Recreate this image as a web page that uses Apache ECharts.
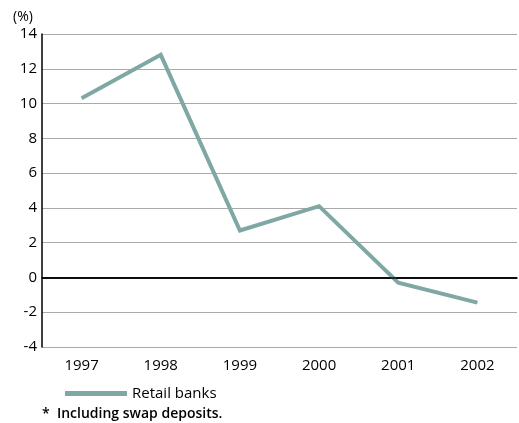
<!DOCTYPE html>
<html><head><meta charset="utf-8">
<script src="https://cdn.jsdelivr.net/npm/echarts@6/dist/echarts.min.js"></script>
<style>html,body{margin:0;padding:0;background:#fff}#c{width:519px;height:423px}</style>
</head><body><div id="c"></div>
<script>
const categories = ['1997','1998','1999','2000','2001','2002'];
const retailBanks = [10.3, 12.8, 2.7, 4.1, -0.3, -1.45];
const yTicks = [-4,-2,0,2,4,6,8,10,12,14];
const seriesName = 'Retail banks';
const footnote = '*  Including swap deposits.';
const unitLabel = '(%)';

const font = 'Open Sans, Liberation Sans, sans-serif';
const chart = echarts.init(document.getElementById('c'), null, {renderer:'canvas'});
chart.setOption({
  animation:false,
  grid:{left:42, right:2, top:34, bottom:76, containLabel:false},
  xAxis:{type:'category', data:categories, boundaryGap:true,
    axisLine:{lineStyle:{color:'#000', width:1.5}},
    axisTick:{inside:true, length:6, lineStyle:{color:'#000', width:1.5}},
    axisLabel:{color:'#000', fontSize:15, fontFamily:font, margin:11}},
  yAxis:{type:'value', min:yTicks[0], max:yTicks[yTicks.length-1], interval:2,
    axisLine:{show:true, lineStyle:{color:'#000', width:1.5}},
    axisTick:{show:false},
    axisLabel:{color:'#000', fontSize:15, fontFamily:font, margin:5},
    splitLine:{lineStyle:{color:'#aaa', width:1}}},
  legend:{left:60, top:381, itemWidth:62, itemHeight:5, icon:'rect', itemGap:10,
    textStyle:{color:'#000', fontSize:15, fontFamily:font}, data:[seriesName]},
  graphic:[
    {type:'text', left:13, top:10, style:{text:unitLabel, fill:'#000', font:'14px '+font}},
    {type:'text', left:42, top:407, style:{text:footnote, fill:'#000', font:'600 14px '+font}}
  ],
  series:[
    {name:seriesName, type:'line', data:retailBanks, symbol:'none',
      lineStyle:{color:'#7fa8a5', width:4, join:'miter'}, itemStyle:{color:'#7fa8a5'},
      markLine:{silent:true, symbol:'none', label:{show:false},
        lineStyle:{color:'#000', width:1.5, type:'solid'}, data:[{yAxis:0}]}}
  ]
});
</script></body></html>
